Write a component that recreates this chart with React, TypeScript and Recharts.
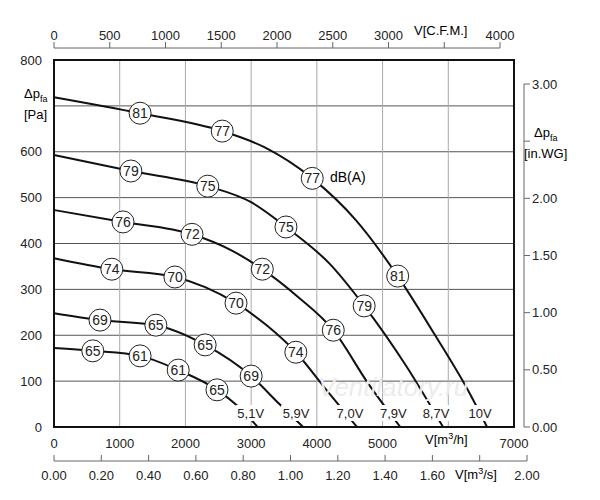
import React from "react";
import {
  ComposedChart,
  LineChart,
  Line,
  Scatter,
  XAxis,
  YAxis,
  CartesianGrid,
  ReferenceArea,
} from "recharts";

interface Pt {
  x: number;
  y: number;
}
interface Tag {
  x: number;
  y: number;
  v: string;
}

const curve10: Pt[] = [
  { x: 0, y: 719 }, { x: 1310, y: 684 }, { x: 2560, y: 645 }, { x: 3200, y: 610 },
  { x: 3930, y: 542 }, { x: 4600, y: 450 }, { x: 5230, y: 329 }, { x: 5800, y: 200 },
  { x: 6300, y: 80 }, { x: 6590, y: 0 },
];
const curve87: Pt[] = [
  { x: 0, y: 593 }, { x: 1170, y: 558 }, { x: 2340, y: 525 }, { x: 3000, y: 490 },
  { x: 3530, y: 436 }, { x: 4200, y: 355 }, { x: 4720, y: 264 }, { x: 5350, y: 135 },
  { x: 5920, y: 0 },
];
const curve79: Pt[] = [
  { x: 0, y: 473 }, { x: 1050, y: 447 }, { x: 2100, y: 420 }, { x: 2700, y: 385 },
  { x: 3170, y: 344 }, { x: 3700, y: 285 }, { x: 4250, y: 211 }, { x: 4780, y: 95 },
  { x: 5270, y: 0 },
];
const curve70: Pt[] = [
  { x: 0, y: 368 }, { x: 880, y: 344 }, { x: 1840, y: 327 }, { x: 2300, y: 305 },
  { x: 2770, y: 270 }, { x: 3250, y: 220 }, { x: 3680, y: 163 }, { x: 4150, y: 80 },
  { x: 4610, y: 0 },
];
const curve59: Pt[] = [
  { x: 0, y: 248 }, { x: 700, y: 233 }, { x: 1550, y: 222 }, { x: 2300, y: 179 },
  { x: 3000, y: 111 }, { x: 3430, y: 50 }, { x: 3790, y: 0 },
];
const curve51: Pt[] = [
  { x: 0, y: 172 }, { x: 590, y: 166 }, { x: 1310, y: 155 }, { x: 1890, y: 124 },
  { x: 2480, y: 81 }, { x: 2800, y: 45 }, { x: 3100, y: 0 },
];
const curves = [curve10, curve87, curve79, curve70, curve59, curve51];

const noiseTags: Tag[] = [
  { x: 1310, y: 684, v: "81" }, { x: 2560, y: 645, v: "77" }, { x: 3930, y: 542, v: "77" },
  { x: 5230, y: 329, v: "81" },
  { x: 1170, y: 558, v: "79" }, { x: 2340, y: 525, v: "75" }, { x: 3530, y: 436, v: "75" },
  { x: 4720, y: 264, v: "79" },
  { x: 1050, y: 447, v: "76" }, { x: 2100, y: 420, v: "72" }, { x: 3170, y: 344, v: "72" },
  { x: 4250, y: 211, v: "76" },
  { x: 880, y: 344, v: "74" }, { x: 1840, y: 327, v: "70" }, { x: 2770, y: 270, v: "70" },
  { x: 3680, y: 163, v: "74" },
  { x: 700, y: 233, v: "69" }, { x: 1550, y: 222, v: "65" }, { x: 2300, y: 179, v: "65" },
  { x: 3000, y: 111, v: "69" },
  { x: 590, y: 166, v: "65" }, { x: 1310, y: 155, v: "61" }, { x: 1890, y: 124, v: "61" },
  { x: 2480, y: 81, v: "65" },
];
const voltTags: Tag[] = [
  { x: 3100, y: 0, v: "5,1V" }, { x: 3790, y: 0, v: "5,9V" }, { x: 4610, y: 0, v: "7,0V" },
  { x: 5270, y: 0, v: "7,9V" }, { x: 5920, y: 0, v: "8,7V" }, { x: 6590, y: 0, v: "10V" },
];

const m3hTicks = [0, 1000, 2000, 3000, 4000, 5000, 6000, 7000];
const paTicks = [0, 100, 200, 300, 400, 500, 600, 700, 800];
const inwgTicks = [0, 0.5, 1, 1.5, 2, 2.5, 3];
const cfmTicks = [0, 500, 1000, 1500, 2000, 2500, 3000, 3500, 4000];
const m3sTicks = [0, 0.2, 0.4, 0.6, 0.8, 1.0, 1.2, 1.4, 1.6, 1.8, 2.0];

const cfmSpan: Pt[] = [{ x: 0, y: 0 }, { x: 4000, y: 1 }];
const inwgSpan: Pt[] = [{ x: 0, y: 0 }, { x: 1, y: 3 }];
const m3sSpan: Pt[] = [{ x: 0, y: 0 }, { x: 2, y: 1 }];

const font = "'Liberation Sans', Arial, sans-serif";
const ink = "#222";
const tickStyle = { fontSize: 13, fill: ink, fontFamily: font };
const axisGrey = "#666";

const NoiseShape = (p: any) => (
  <g>
    <circle cx={p.cx} cy={p.cy} r={11} fill="#fff" stroke={ink} strokeWidth={1} />
    <text x={p.cx} y={p.cy + 5} textAnchor="middle" fontSize={14} fontFamily={font} fill={ink}>
      {p.payload.v}
    </text>
  </g>
);
const VoltShape = (p: any) => (
  <g>
    <rect x={p.cx - 22} y={p.cy - 22} width={30} height={16} fill="#fff" />
    <text x={p.cx - 7} y={p.cy - 9} textAnchor="middle" fontSize={13} fontFamily={font} fill={ink}>
      {p.payload.v}
    </text>
  </g>
);

// bottom m3/s axis: tick marks point up, labels below
const M3sTick = (p: any) => {
  const v = p.payload.value as number;
  return (
    <g>
      <line x1={p.x} y1={p.y} x2={p.x} y2={p.y - 6} stroke={axisGrey} />
      <text x={p.x} y={p.y + 19} textAnchor="middle" fontSize={13} fontFamily={font} fill={ink}>
        {Math.abs(v - 1.8) < 1e-6 ? "" : v.toFixed(2)}
      </text>
    </g>
  );
};

const App: React.FC = () => (
  <div style={{ position: "absolute", left: 0, top: 0, width: 600, height: 500, background: "#fff", fontFamily: font }}>
    <ComposedChart width={600} height={500} margin={{ top: 60, right: 86, bottom: 43, left: 0 }}>
      <CartesianGrid xAxisId="m3h" yAxisId="pa" vertical={false} stroke="#555" />
      <CartesianGrid xAxisId="m3h" yAxisId="pa" horizontal={false} stroke="#aaa" />
      <XAxis
        xAxisId="m3h" type="number" dataKey="x" domain={[0, 7000]} ticks={m3hTicks}
        height={30} tick={tickStyle} axisLine={false} tickLine={false} tickMargin={6}
        tickFormatter={(v: number) => (v === 6000 ? "" : String(v))}
      />
      <YAxis
        yAxisId="pa" type="number" domain={[0, 800]} ticks={paTicks} width={54}
        tick={tickStyle} axisLine={false} tickLine={false} tickMargin={6}
        tickFormatter={(v: number) => (v === 700 ? "" : String(v))}
      />
      {curves.map((c, i) => (
        <Line
          key={i} xAxisId="m3h" yAxisId="pa" data={c} dataKey="y" type="monotone"
          stroke="#111" strokeWidth={2} dot={false} isAnimationActive={false}
        />
      ))}
      <ReferenceArea
        xAxisId="m3h" yAxisId="pa" x1={0} x2={7000} y1={0} y2={800}
        fill="none" stroke="#111" strokeWidth={2} fillOpacity={0}
      />
      <Scatter xAxisId="m3h" yAxisId="pa" data={noiseTags} dataKey="y" shape={NoiseShape} isAnimationActive={false} />
      <Scatter xAxisId="m3h" yAxisId="pa" data={voltTags} dataKey="y" shape={VoltShape} isAnimationActive={false} />
    </ComposedChart>

    <div style={{ position: "absolute", left: 0, top: 0 }}>
      <LineChart width={600} height={60} margin={{ top: 0, right: 100, bottom: 0, left: 54 }}>
        <XAxis
          type="number" dataKey="x" orientation="top" domain={[0, 4000]} ticks={cfmTicks}
          height={48} tick={tickStyle} stroke={axisGrey} tickSize={6}
          tickFormatter={(v: number) => (v === 3500 ? "" : String(v))}
        />
        <YAxis hide domain={[0, 1]} />
        <Line data={cfmSpan} dataKey="y" stroke="none" dot={false} isAnimationActive={false} />
      </LineChart>
    </div>

    <div style={{ position: "absolute", left: 0, top: 0 }}>
      <LineChart width={600} height={500} margin={{ top: 84, right: 0, bottom: 73, left: 514 }}>
        <XAxis hide type="number" dataKey="x" domain={[0, 1]} />
        <YAxis
          orientation="right" type="number" domain={[0, 3]} ticks={inwgTicks} width={76}
          tick={tickStyle} stroke={axisGrey} tickSize={6}
          tickFormatter={(v: number) => (v === 2.5 ? "" : v.toFixed(2))}
        />
        <Line data={inwgSpan} dataKey="y" stroke="none" dot={false} isAnimationActive={false} />
      </LineChart>
    </div>

    <div style={{ position: "absolute", left: 0, top: 0 }}>
      <LineChart width={600} height={500} margin={{ top: 450, right: 73, bottom: 0, left: 54 }}>
        <XAxis
          type="number" dataKey="x" domain={[0, 2]} ticks={m3sTicks} height={39}
          tick={M3sTick} stroke={axisGrey} tickLine={false} tickSize={0} tickMargin={0}
        />
        <YAxis hide domain={[0, 1]} />
        <Line data={m3sSpan} dataKey="y" stroke="none" dot={false} isAnimationActive={false} />
      </LineChart>
    </div>

    <div style={{ position: "absolute", left: 24, top: 86, fontSize: 13, lineHeight: "15px" }}>
      Δp<sub style={{ fontSize: 9 }}>fa</sub><br />[Pa]
    </div>
    <div style={{ position: "absolute", left: 524, top: 125, fontSize: 13, lineHeight: "15px", textAlign: "center" }}>
      Δp<sub style={{ fontSize: 9 }}>fa</sub><br />[in.WG]
    </div>
    <div style={{ position: "absolute", left: 414, top: 23, fontSize: 13 }}>V[C.F.M.]</div>
    <div style={{ position: "absolute", left: 425, top: 431, fontSize: 13 }}>
      V[m<sup style={{ fontSize: 9 }}>3</sup>/h]
    </div>
    <div style={{ position: "absolute", left: 455, top: 466, fontSize: 13 }}>
      V[m<sup style={{ fontSize: 9 }}>3</sup>/s]
    </div>
    <div style={{ position: "absolute", left: 330, top: 169, fontSize: 14 }}>dB(A)</div>
    <div style={{ position: "absolute", left: 318, top: 372, fontSize: 26, color: "#ececec", fontStyle: "italic" }}>
      Ventilatory.ru
    </div>
  </div>
);

export default App;
